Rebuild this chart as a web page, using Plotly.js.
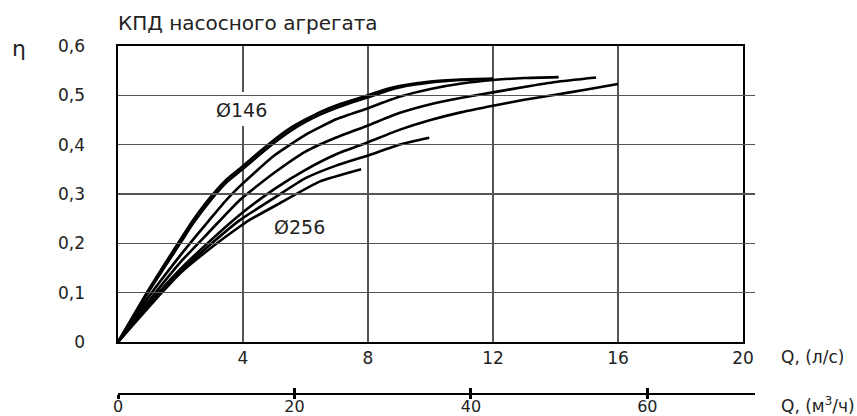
<!DOCTYPE html>
<html>
<head>
<meta charset="utf-8">
<script src="https://cdn.plot.ly/plotly-3.0.1.min.js"></script>
<style>html,body{margin:0;padding:0;background:#fff;}</style>
</head>
<body>
<div id="chart" style="width:857px;height:416px;"></div>
<script>
// ---- data (Q in l/s, efficiency eta) ----
const xTop1 = [0,1,2,2.4,3,3.5,4,4.5,5,5.5,6,6.5,7,7.5,8,8.6,9,10,11,12];
const yTop1 = [0,0.108,0.208,0.247,0.297,0.331,0.357,0.384,0.41,0.433,0.451,0.467,0.48,0.49,0.5,0.513,0.519,0.528,0.532,0.534];
const xTop2 = [0,1,2,2.4,3,3.5,4,4.5,5,5.5,6,6.5,7,7.5,8,8.6,9,10,11,12];
const yTop2 = [0,0.104,0.201,0.24,0.29,0.325,0.351,0.378,0.404,0.427,0.446,0.462,0.475,0.486,0.496,0.509,0.516,0.526,0.531,0.533];
const xC3 = [0,1,2,2.5,3,3.5,3.9,5,6,7,8,9,10,11,12,13,14.1];
const yC3 = [0,0.093,0.176,0.215,0.253,0.29,0.316,0.378,0.42,0.452,0.474,0.497,0.513,0.524,0.531,0.535,0.537];
const xC4 = [0,1.2,2,2.9,3.9,5,6,7,8,9,10,11,12,13,14,15.3];
const yC4 = [0,0.1,0.162,0.222,0.288,0.343,0.386,0.415,0.439,0.464,0.482,0.495,0.506,0.517,0.527,0.536];
const xC5 = [0,1.3,2,3,3.9,5,6,7,8,9,10,11,12,13,14,15,16];
const yC5 = [0,0.1,0.148,0.208,0.258,0.31,0.349,0.381,0.405,0.43,0.45,0.466,0.479,0.491,0.501,0.512,0.523];
const xC6 = [0,1.35,2,3,3.9,5,6,7,8,9,9.96];
const yC6 = [0,0.1,0.143,0.2,0.247,0.292,0.332,0.358,0.378,0.4,0.414];
const xC7 = [0,1.4,2,3,3.9,4.2,5.17,6.45,7.78];
const yC7 = [0,0.1,0.14,0.192,0.234,0.247,0.281,0.325,0.35];

const xTickVals = [4,8,12,16,20];
const xTickText = ['4','8','12','16','20'];
const yTickVals = [0,0.1,0.2,0.3,0.4,0.5,0.6];
const yTickText = ['0','0,1','0,2','0,3','0,4','0,5','0,6'];
const x2TickVals = [0,20,40,60];
const x2TickText = ['0','20','40','60'];
const x2Max = 72.2;

const curves = [[xTop1,yTop1],[xTop2,yTop2],[xC3,yC3],[xC4,yC4],[xC5,yC5],[xC6,yC6],[xC7,yC7]];

const FONT = 'DejaVu Sans, Arial, sans-serif';
const TXT = '#222';

const traces = curves.map(c => ({
  x: c[0], y: c[1], type: 'scatter', mode: 'lines',
  line: {color: '#000', width: 2.6, shape: 'spline', smoothing: 0.5},
  hoverinfo: 'skip', showlegend: false, xaxis: 'x', yaxis: 'y'
}));
// carrier traces for the secondary (m3/h) axis and its lower tick marks
traces.push({x: [0], y: [0], xaxis: 'x2', yaxis: 'y', type: 'scatter', mode: 'markers',
  marker: {opacity: 0}, hoverinfo: 'skip', showlegend: false});
traces.push({x: [0], y: [0], xaxis: 'x3', yaxis: 'y', type: 'scatter', mode: 'markers',
  marker: {opacity: 0}, hoverinfo: 'skip', showlegend: false});

const L = 118, R = 102, T = 46, B = 22;
const W = 857, H = 416;
const pw = W - L - R, ph = H - T - B;
const mainRight = 743; // px of x=20
const mainBottom = 342; // px of y=0

const secAxis = {
  domain: [0, 1], range: [0, x2Max], anchor: 'free', position: 0,
  tickmode: 'array', tickvals: x2TickVals, ticktext: x2TickText,
  showgrid: false, zeroline: false,
  ticklen: 5, tickwidth: 3, tickcolor: '#000',
  tickfont: {family: FONT, size: 16, color: TXT}
};

const layout = {
  width: W, height: H,
  margin: {l: L, r: R, t: T, b: B},
  paper_bgcolor: '#fff', plot_bgcolor: 'rgba(0,0,0,0)',
  font: {family: FONT, size: 17, color: TXT},
  title: {text: 'КПД насосного агрегата', x: L / W, xanchor: 'left', xref: 'container',
          y: 1 - 23 / H, yanchor: 'middle', yref: 'container', font: {family: FONT, size: 20, color: TXT}},
  xaxis: {
    domain: [0, (mainRight - L) / pw], range: [0, 20], anchor: 'y',
    tickmode: 'array', tickvals: xTickVals, ticktext: xTickText,
    showgrid: true, gridcolor: '#555', gridwidth: 1.3,
    showline: true, mirror: true, linecolor: '#000', linewidth: 1.6,
    zeroline: false, ticks: '', ticklabelstandoff: 0,
    tickfont: {family: FONT, size: 17, color: TXT}
  },
  yaxis: {
    domain: [(H - B - mainBottom) / ph, 1], range: [0, 0.6], anchor: 'x',
    tickmode: 'array', tickvals: yTickVals, ticktext: yTickText,
    showgrid: true, gridcolor: '#555', gridwidth: 1.3,
    showline: true, mirror: true, linecolor: '#000', linewidth: 1.6,
    zeroline: false, ticks: '', ticklabelstandoff: 28,
    tickfont: {family: FONT, size: 17, color: TXT}
  },
  xaxis2: Object.assign({}, secAxis, {
    showline: true, linecolor: '#000', linewidth: 2, ticks: 'inside', showticklabels: true,
    ticklabelstandoff: -2
  }),
  xaxis3: Object.assign({}, secAxis, {
    showline: false, ticks: 'outside', ticklen: 4, showticklabels: false
  }),
  shapes: [
    {type: 'rect', xref: 'x', yref: 'y', x0: 2.53, x1: 6.21, y0: 0.438, y1: 0.507,
     fillcolor: '#fff', line: {width: 0}, layer: 'between'}
  ],
  annotations: [
    {text: 'η', xref: 'paper', yref: 'paper', x: (19 - L) / pw, y: (H - B - 48) / ph,
     xanchor: 'center', yanchor: 'middle', showarrow: false, font: {family: FONT, size: 22, color: TXT}},
    {text: 'Q, (л/с)', xref: 'paper', yref: 'paper', x: (779 - L) / pw, y: (H - B - 357) / ph,
     xanchor: 'left', yanchor: 'middle', showarrow: false, font: {family: FONT, size: 17, color: TXT}},
    {text: 'Q, (м<sup>3</sup>/ч)', xref: 'paper', yref: 'paper', x: (779 - L) / pw, y: (H - B - 405) / ph,
     xanchor: 'left', yanchor: 'middle', showarrow: false, font: {family: FONT, size: 17, color: TXT}},
    {text: 'Ø146', xref: 'x', yref: 'y', x: 3.94, y: 0.47, xanchor: 'center', yanchor: 'middle',
     showarrow: false, font: {family: FONT, size: 19, color: TXT}},
    {text: 'Ø256', xref: 'x', yref: 'y', x: 5.82, y: 0.233, xanchor: 'center', yanchor: 'middle',
     showarrow: false, font: {family: FONT, size: 19, color: TXT}}
  ]
};

Plotly.newPlot('chart', traces, layout, {displayModeBar: false, staticPlot: true});
</script>
</body>
</html>
